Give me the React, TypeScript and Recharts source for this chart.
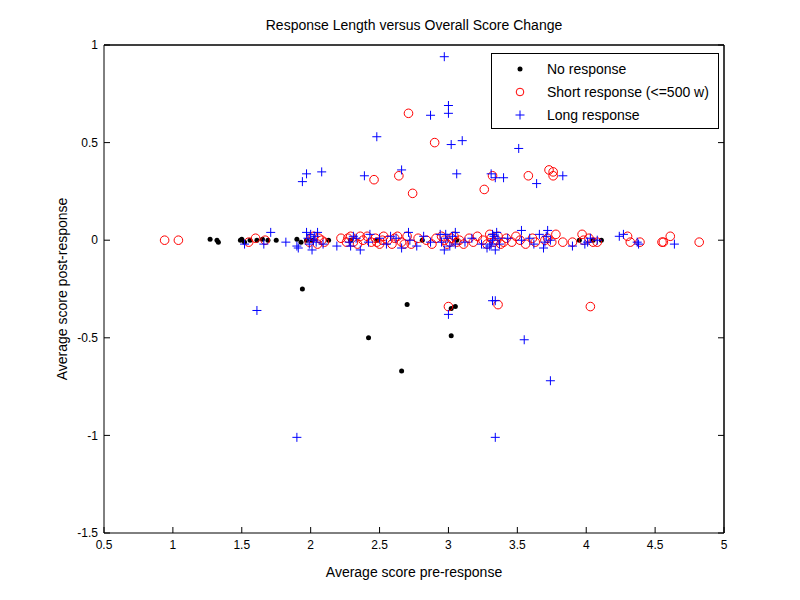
import React from 'react';
import { ScatterChart, Scatter, XAxis, YAxis, Legend, ReferenceLine } from 'recharts';

type Pt = { x: number; y: number };

const xTicks = [0.5, 1, 1.5, 2, 2.5, 3, 3.5, 4, 4.5, 5];
const yTicks = [-1.5, -1, -0.5, 0, 0.5, 1];

// [pre, post] pairs
const noResponse: [number, number][] = [
  [1.27, 0.005], [1.32, 0], [1.33, -0.01], [1.49, 0], [1.5, 0.005], [1.52, -0.01],
  [1.56, 0], [1.61, 0], [1.65, 0.005], [1.69, 0], [1.75, 0], [1.9, 0.005],
  [1.93, -0.01], [1.97, 0], [2.01, 0], [2.13, 0], [2.29, 0], [2.48, 0],
  [2.81, 0], [3.06, 0], [3.95, 0], [4.05, 0], [4.11, 0],
  [1.94, -0.25], [2.7, -0.33], [2.42, -0.5], [3.02, -0.49], [3.02, -0.35],
  [3.05, -0.34], [2.66, -0.67],
];

const shortResponse: [number, number][] = [
  [0.94, 0], [1.04, 0], [1.55, -0.01], [1.6, 0.01], [1.67, 0], [1.99, -0.01],
  [2.0, 0.01], [2.02, 0.02], [2.05, -0.02], [2.06, 0.01], [2.08, 0], [2.1, -0.01],
  [2.22, 0.01], [2.26, -0.01], [2.27, 0.01], [2.29, 0.02], [2.31, -0.01], [2.34, -0.02],
  [2.36, 0.02], [2.38, 0], [2.41, 0.02], [2.44, -0.01], [2.47, 0.01], [2.48, -0.01],
  [2.5, -0.02], [2.52, 0], [2.53, 0.02], [2.56, 0], [2.59, -0.02], [2.61, 0.01],
  [2.63, 0.02], [2.66, -0.01], [2.68, -0.02], [2.7, 0.02], [2.73, -0.02], [2.78, 0.01],
  [2.84, 0], [2.88, -0.02], [2.91, 0.01], [2.95, 0.02], [2.97, 0], [2.99, -0.02],
  [3.01, -0.01], [3.02, 0.01], [3.04, 0.02], [3.06, -0.01], [3.08, 0], [3.11, -0.02],
  [3.15, 0.01], [3.18, -0.01], [3.21, 0.02], [3.25, 0], [3.28, -0.02], [3.3, 0.03],
  [3.31, 0.01], [3.33, -0.01], [3.35, 0], [3.36, 0.02], [3.38, -0.02], [3.4, -0.01],
  [3.42, 0.01], [3.46, -0.01], [3.49, 0.02], [3.52, 0], [3.56, -0.02], [3.61, 0.01],
  [3.63, -0.01], [3.7, 0], [3.72, 0.01], [3.75, -0.01], [3.78, 0.03], [3.83, -0.01],
  [3.9, -0.01], [3.97, 0.03], [3.98, 0], [4.02, 0.01], [4.05, -0.01], [4.08, -0.01],
  [4.3, 0.02], [4.32, -0.01], [4.39, -0.01], [4.55, -0.01], [4.56, -0.01], [4.61, 0.02],
  [4.82, -0.01],
  [2.71, 0.65], [2.46, 0.31], [2.64, 0.33], [2.74, 0.24], [2.9, 0.5], [3.32, 0.33],
  [3.26, 0.26], [3.58, 0.33], [3.73, 0.36], [3.76, 0.33], [3.76, 0.35],
  [3.0, -0.34], [3.36, -0.33], [4.03, -0.34],
];

const longResponse: [number, number][] = [
  [1.52, -0.02], [1.66, -0.02], [1.71, 0.04], [1.82, -0.01], [1.9, -0.03], [1.91, -0.04],
  [1.97, 0.04], [1.98, 0.01], [1.99, -0.02], [2.0, 0.03], [2.01, -0.05], [2.02, 0],
  [2.03, 0.02], [2.04, -0.01], [2.05, 0.04], [2.09, -0.02], [2.19, -0.03], [2.28, -0.01],
  [2.29, -0.03], [2.31, 0.02], [2.33, 0.01], [2.36, -0.05], [2.42, -0.01], [2.43, 0.03],
  [2.5, 0.01], [2.55, -0.02], [2.58, 0.02], [2.62, 0.01], [2.66, -0.04], [2.71, 0.04],
  [2.72, 0], [2.77, -0.03], [2.82, 0.02], [2.87, -0.01], [2.94, 0.03], [2.95, -0.01],
  [2.97, -0.05], [2.98, 0.03], [2.99, 0.01], [3.01, -0.03], [3.03, 0.02], [3.05, 0.04],
  [3.05, -0.02], [3.12, -0.01], [3.17, 0.01], [3.24, -0.02], [3.28, -0.04], [3.3, -0.03],
  [3.31, -0.02], [3.32, 0.03], [3.32, 0], [3.33, 0.02], [3.34, -0.05], [3.35, 0.04],
  [3.36, 0.01], [3.37, -0.02], [3.43, 0.01], [3.53, 0.05], [3.53, 0], [3.59, 0.01],
  [3.62, -0.02], [3.66, 0.03], [3.69, -0.04], [3.7, -0.01], [3.71, 0.02], [3.72, 0.05],
  [3.74, 0], [3.9, -0.03], [3.99, -0.02], [4.01, -0.01], [4.03, 0.01], [4.08, 0],
  [4.24, 0.02], [4.27, 0.03], [4.37, -0.01], [4.38, -0.02], [4.64, -0.02],
  [2.97, 0.94], [2.48, 0.53], [1.97, 0.34], [1.94, 0.3], [2.08, 0.35], [2.39, 0.33],
  [2.66, 0.36], [3.0, 0.69], [3.0, 0.65], [2.87, 0.64], [3.02, 0.49], [3.1, 0.51],
  [3.51, 0.47], [3.06, 0.34], [3.31, 0.34], [3.34, 0.32], [3.4, 0.32], [3.64, 0.29],
  [3.83, 0.33], [1.61, -0.36], [3.0, -0.38], [3.32, -0.31], [3.34, -0.31], [3.55, -0.51],
  [3.74, -0.72], [1.9, -1.01], [3.34, -1.01],
];

const legendLabels = ['No response', 'Short response (<=500 w)', 'Long response'];

const toPts = (arr: [number, number][]): Pt[] => arr.map(([x, y]) => ({ x, y }));

const FONT = '"Liberation Sans", Arial, Helvetica, sans-serif';
const TICK_LEN = 6;
const X_GAP = 7;
const Y_GAP = 6;

const Dot = ({ cx, cy }: any) => <circle cx={cx} cy={cy} r={2.5} fill="#000" />;
const Ring = ({ cx, cy }: any) => (
  <circle cx={cx} cy={cy} r={4.3} fill="none" stroke="#ff0000" strokeWidth={1} />
);
const Plus = ({ cx, cy }: any) => (
  <path d={`M${cx - 4.5},${cy}H${cx + 4.5}M${cx},${cy - 4.5}V${cy + 4.5}`} stroke="#0000ff" strokeWidth={1} />
);

// MATLAB style: tick marks point into the plot, labels outside
const BottomTick = ({ x, y, payload }: any) => (
  <g>
    <line x1={x} x2={x} y1={y - X_GAP} y2={y - X_GAP - TICK_LEN} stroke="#000" />
    <text x={x} y={y} dy="0.72em" textAnchor="middle" fontSize={12} fontFamily={FONT} fill="#000">
      {payload.value}
    </text>
  </g>
);
const LeftTick = ({ x, y, payload }: any) => (
  <g>
    <line x1={x + Y_GAP} x2={x + Y_GAP + TICK_LEN} y1={y} y2={y} stroke="#000" />
    <text x={x} y={y} dy="0.35em" textAnchor="end" fontSize={12} fontFamily={FONT} fill="#000">
      {payload.value}
    </text>
  </g>
);
const TopTick = ({ x, y }: any) => <line x1={x} x2={x} y1={y} y2={y + TICK_LEN} stroke="#000" />;
const RightTick = ({ x, y }: any) => <line x1={x} x2={x - TICK_LEN} y1={y} y2={y} stroke="#000" />;

const LegendBox = () => {
  const rows = [16, 39, 62];
  return (
    <svg width={228} height={76} style={{ display: 'block', fontFamily: FONT }}>
      <rect x={0.5} y={0.5} width={227} height={75} fill="#fff" stroke="#000" />
      <Dot cx={29} cy={rows[0]} />
      <circle cx={29} cy={rows[1]} r={3.8} fill="none" stroke="#ff0000" />
      <Plus cx={29} cy={rows[2]} />
      {legendLabels.map((l, i) => (
        <text key={l} x={56} y={rows[i]} dy="0.35em" fontSize={14} fill="#000">
          {l}
        </text>
      ))}
    </svg>
  );
};

const axisLine = { stroke: '#000' };
const labelStyle = { fontSize: 14, fill: '#000', fontFamily: FONT };

export default function App() {
  return (
    <div style={{ position: 'absolute', left: 0, top: 0, width: 800, height: 600, background: '#fff' }}>
      <ScatterChart width={800} height={600} margin={{ top: 44, right: 75, bottom: 27, left: 44 }}>
        <XAxis
          type="number"
          dataKey="x"
          domain={[0.5, 5]}
          ticks={xTicks}
          allowDataOverflow
          height={40}
          tickSize={0}
          tickMargin={X_GAP}
          tick={<BottomTick />}
          tickLine={false}
          axisLine={axisLine}
          label={{ value: 'Average score pre-response', position: 'insideBottom', offset: -4, style: labelStyle }}
        />
        <XAxis
          xAxisId="top"
          orientation="top"
          type="number"
          domain={[0.5, 5]}
          ticks={xTicks}
          allowDataOverflow
          height={1}
          tickSize={0}
          tickMargin={0}
          tick={<TopTick />}
          tickLine={false}
          axisLine={axisLine}
          label={{ value: 'Response Length versus Overall Score Change', position: 'top', offset: 14, style: labelStyle }}
        />
        <YAxis
          type="number"
          dataKey="y"
          domain={[-1.5, 1]}
          ticks={yTicks}
          allowDataOverflow
          width={60}
          tickSize={0}
          tickMargin={Y_GAP}
          tick={<LeftTick />}
          tickLine={false}
          axisLine={axisLine}
          label={{ value: 'Average score post-response', angle: -90, position: 'insideLeft', offset: 18, style: { ...labelStyle, textAnchor: 'middle' } }}
        />
        <YAxis
          yAxisId="right"
          orientation="right"
          type="number"
          domain={[-1.5, 1]}
          ticks={yTicks}
          allowDataOverflow
          width={1}
          tickSize={0}
          tickMargin={0}
          tick={<RightTick />}
          tickLine={false}
          axisLine={axisLine}
        />
        <ReferenceLine x={5} stroke="#000" ifOverflow="extendDomain" />
        <ReferenceLine y={1} stroke="#000" ifOverflow="extendDomain" />
        <Scatter name={legendLabels[0]} data={toPts(noResponse)} shape={<Dot />} isAnimationActive={false} />
        <Scatter name={legendLabels[1]} data={toPts(shortResponse)} shape={<Ring />} isAnimationActive={false} />
        <Scatter name={legendLabels[2]} data={toPts(longResponse)} shape={<Plus />} isAnimationActive={false} />
        <Legend
          layout="vertical"
          align="center"
          verticalAlign="middle"
          wrapperStyle={{ position: 'absolute', left: 491, top: 53, width: 228, height: 76 }}
          content={<LegendBox />}
        />
      </ScatterChart>
    </div>
  );
}
